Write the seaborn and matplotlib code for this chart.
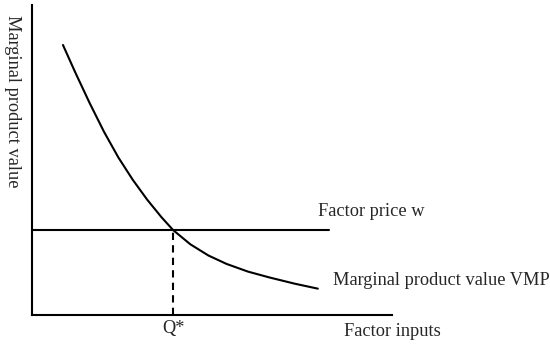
import numpy as np
import pandas as pd
import matplotlib.pyplot as plt
import seaborn as sb

# factor input quantity vs marginal product value
inputs = [0.86, 1.2, 1.6, 2.0, 2.4, 2.8, 3.2, 3.6, 3.92,
          4.4, 4.9, 5.4, 6.0, 6.6, 7.3, 7.94]
vmp = [8.71, 7.83, 6.84, 5.91, 5.08, 4.36, 3.72, 3.15, 2.74,
       2.28, 1.92, 1.65, 1.40, 1.21, 1.01, 0.85]

wage = 2.74
wage_end = 8.25
q_star = 3.92

label_vmp = 'Marginal product value VMP'
label_w = 'Factor price w'
label_x = 'Factor inputs'
label_y = 'Marginal product value'
label_q = 'Q*'

if __name__ == '__main__':
    sb.set_style('white')
    plt.rcParams['font.family'] = ['Liberation Serif', 'DejaVu Serif']

    df = pd.DataFrame({'x': inputs, 'vmp': vmp})

    fig = plt.figure(figsize=(5.5, 3.48), dpi=100)
    ax = fig.add_axes([0.0582, 0.0948, 0.6545, 0.8908])

    sb.lineplot(data=df, x='x', y='vmp', color='black', linewidth=1.5, ax=ax)
    ax.plot([0, wage_end], [wage, wage], color='black', linewidth=1.5)
    ax.plot([q_star, q_star], [0, wage], color='black', linewidth=1.5, linestyle=(0, (3.5, 2.5)))

    ax.set_xlim(0, 10)
    ax.set_ylim(0, 10)
    ax.set_xticks([])
    ax.set_yticks([])
    ax.set_xlabel('')
    ax.set_ylabel('')
    for s in ['top', 'right']:
        ax.spines[s].set_visible(False)
    for s in ['left', 'bottom']:
        ax.spines[s].set_color('black')
        ax.spines[s].set_linewidth(1.5)

    fs = 13.2
    ax.text(7.94, 3.35, label_w, fontsize=fs, va='center', ha='left', clip_on=False)
    ax.text(8.36, 1.10, label_vmp, fontsize=fs, va='center', ha='left', clip_on=False)
    ax.text(8.67, -0.52, label_x, fontsize=fs, va='center', ha='left', clip_on=False)
    ax.text(3.94, -0.42, label_q, fontsize=fs, va='center', ha='center', clip_on=False)
    fig.text(12 / 550, 1 - 101 / 348, label_y, fontsize=fs, rotation=-90,
             va='center', ha='center')

    fig.savefig('out.png', dpi=100)
